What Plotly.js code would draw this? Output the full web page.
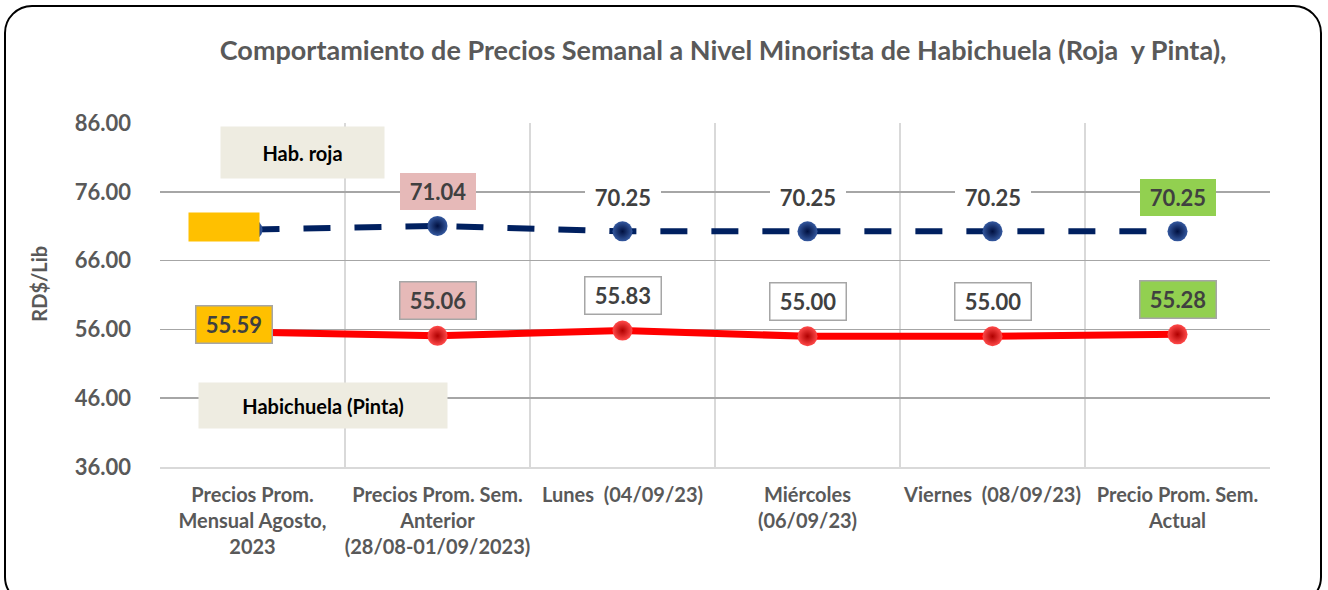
<!DOCTYPE html>
<html>
<head>
<meta charset="utf-8">
<script src="https://cdn.plot.ly/plotly-3.0.1.min.js"></script>
<style>
  html, body { margin: 0; padding: 0; background: #ffffff; }
  #wrap { position: relative; width: 1328px; height: 590px; overflow: hidden; }
  #frame { position: absolute; left: 4px; top: 5px; width: 1318px; height: 600px; box-sizing: border-box;
           border: 2px solid #000; border-radius: 28px; pointer-events: none; }
  #chart { position: absolute; left: 0; top: 0; width: 1328px; height: 590px; }
</style>
</head>
<body>
<div id="wrap">
  <div id="frame"></div>
  <div id="chart"></div>
</div>
<script>
// ---- data ----
const categories = [
  "Precios Prom.<br>Mensual Agosto,<br>2023",
  "Precios Prom. Sem.<br>Anterior<br>(28/08-01/09/2023)",
  "Lunes  (04/09/23)",
  "Miércoles<br>(06/09/23)",
  "Viernes  (08/09/23)",
  "Precio Prom. Sem.<br>Actual"
];
const rojaValues  = [70.50, 71.04, 70.25, 70.25, 70.25, 70.25];
const pintaValues = [55.59, 55.06, 55.83, 55.00, 55.00, 55.28];
const yTicks = [36, 46, 56, 66, 76, 86];
const rojaName = "Hab. roja";
const pintaName = "Habichuela (Pinta)";
const titleText = "Comportamiento de Precios Semanal a Nivel Minorista de Habichuela (Roja  y Pinta),";
const yTitle = "RD$/Lib";

// ---- styles ----
const FONT = "Lato, 'Open Sans', sans-serif";
const GRAY = "#595959";
const LABEL = "#404040";
const boxFill = ["#FFC000", "#E6B9B8", "#FFFFFF", "#FFFFFF", "#FFFFFF", "#92D050"];
const rojaFill = ["#FFC000", "#E6B9B8", "#FFFFFF", "#FFFFFF", "#FFFFFF", "#92D050"];

const traces = [
  {
    x: categories, y: rojaValues, type: "scatter", mode: "lines+markers", name: rojaName,
    line: { color: "#002060", width: 6, dash: "27px,24px" },
    marker: { size: 20, color: "#34589F", gradient: { type: "radial", color: "#001040" } },
    cliponaxis: false, hoverinfo: "skip"
  },
  {
    x: categories, y: pintaValues, type: "scatter", mode: "lines+markers", name: pintaName,
    line: { color: "#FF0000", width: 7 },
    marker: { size: 20, color: "#FF4A4A", gradient: { type: "radial", color: "#B00000" } },
    cliponaxis: false, hoverinfo: "skip"
  }
];

const annotations = [];
// blue series labels
rojaValues.forEach((v, i) => {
  if (i === 0) {
    annotations.push({
      x: categories[i], y: v, xref: "x", yref: "y", text: " ", showarrow: false,
      xshift: -29, yshift: 3, width: 66, height: 24, bgcolor: "#FFC000", borderpad: 2,
      font: { family: FONT, size: 22, color: LABEL }
    });
  } else {
    annotations.push({
      x: categories[i], y: v, xref: "x", yref: "y", text: "<b>" + v.toFixed(2) + "</b>",
      showarrow: false, yshift: 34, width: 72, height: 33, borderpad: 2,
      bgcolor: rojaFill[i], bordercolor: "rgba(0,0,0,0)", borderwidth: 0,
      font: { family: FONT, size: 22, color: LABEL }
    });
  }
});
// red series labels
pintaValues.forEach((v, i) => {
  annotations.push({
    x: categories[i], y: v, xref: "x", yref: "y", text: "<b>" + v.toFixed(2) + "</b>",
    showarrow: false, xshift: i === 0 ? -19 : 0, yshift: i === 0 ? 8 : 35,
    width: 71, height: 32, borderpad: 2,
    bgcolor: boxFill[i], bordercolor: "#A6A6A6", borderwidth: 1.5,
    font: { family: FONT, size: 22, color: LABEL }
  });
});
// series name boxes
annotations.push({
  xref: "paper", yref: "paper", x: 0.1284, y: 0.9134, xanchor: "center", yanchor: "middle",
  text: "<b>" + rojaName + "</b>", showarrow: false, width: 159, height: 47, borderpad: 2,
  bgcolor: "#EEECE1", font: { family: FONT, size: 20, color: "#000000" }
});
annotations.push({
  xref: "paper", yref: "paper", x: 0.1468, y: 0.178, xanchor: "center", yanchor: "middle",
  text: "<b>" + pintaName + "</b>", showarrow: false, width: 244, height: 41, borderpad: 2,
  bgcolor: "#EEECE1", font: { family: FONT, size: 20, color: "#000000" }
});
// y axis title
annotations.push({
  xref: "paper", yref: "paper", x: -0.109, y: 0.533, xanchor: "center", yanchor: "middle",
  text: "<b>" + yTitle + "</b>", showarrow: false, textangle: -90,
  font: { family: FONT, size: 20, color: GRAY }
});

const layout = {
  width: 1328, height: 590,
  margin: { l: 160, r: 58, t: 123, b: 123 },
  paper_bgcolor: "rgba(0,0,0,0)", plot_bgcolor: "rgba(0,0,0,0)",
  showlegend: false,
  title: {
    text: "<b>" + titleText + "</b>",
    x: 0.5445, xanchor: "center", y: 0.915, yanchor: "middle",
    font: { family: FONT, size: 27, color: GRAY }
  },
  xaxis: {
    type: "category", tickson: "boundaries", showgrid: true, gridcolor: "#D9D9D9", gridwidth: 1.5,
    showline: true, linecolor: "#D9D9D9", linewidth: 2, ticks: "", ticklabelstandoff: 9,
    tickangle: 0, automargin: false,
    tickfont: { family: FONT, size: 20, color: GRAY, weight: "bold" },
    range: [-0.5, 5.5], fixedrange: true
  },
  yaxis: {
    range: [36, 86], tickmode: "array", tickvals: yTicks, tickformat: ".2f",
    showgrid: true, gridcolor: "#A6A6A6", gridwidth: 1.5, zeroline: false, showline: false,
    ticks: "", ticklabelstandoff: 28, automargin: false,
    tickfont: { family: FONT, size: 22, color: GRAY, weight: "bold" }, fixedrange: true
  },
  annotations: annotations
};

Plotly.newPlot("chart", traces, layout, { displayModeBar: false, staticPlot: true });
</script>
</body>
</html>
